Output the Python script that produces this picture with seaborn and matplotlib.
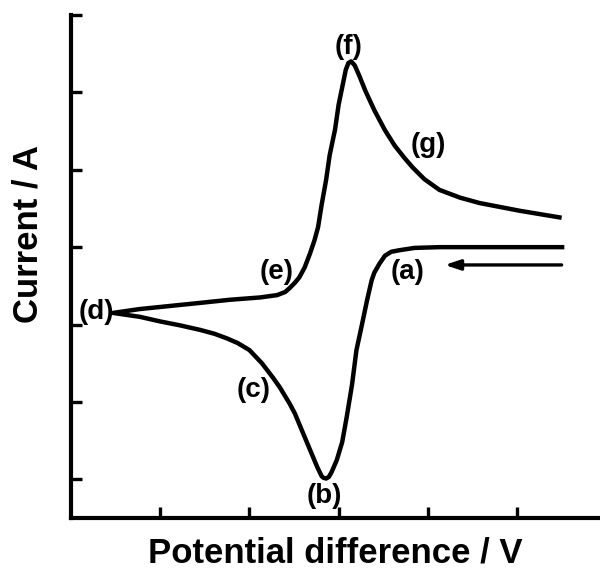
import matplotlib
matplotlib.use("Agg")
import matplotlib.pyplot as plt
import seaborn as sns
import pandas as pd

# Cyclic voltammogram: cathodic sweep from (a) to (d), then anodic sweep back to the right
potential = [5.53, 4.80, 4.13, 3.85, 3.68, 3.59, 3.52, 3.46, 3.40, 3.37, 3.32, 3.26, 3.20,
             3.15, 3.09, 3.04, 2.98, 2.92, 2.89, 2.86, 2.83, 2.81, 2.76, 2.68, 2.60, 2.51,
             2.45, 2.34, 2.26, 2.14, 2.00, 1.87, 1.75, 1.61, 1.45, 1.22, 1.00, 0.77, 0.47,
             0.77, 1.11, 1.45, 1.78, 2.12, 2.31, 2.40, 2.45, 2.51, 2.56, 2.62, 2.68, 2.73,
             2.77, 2.81, 2.86, 2.90, 2.96, 3.00, 3.05, 3.08, 3.11, 3.14, 3.18, 3.23, 3.30,
             3.40, 3.52, 3.63, 3.74, 3.83, 3.96, 4.13, 4.36, 4.58, 5.03, 5.50]
current = [3.00, 3.00, 3.00, 2.99, 2.96, 2.94, 2.89, 2.79, 2.67, 2.57, 2.32, 1.99, 1.67,
           1.22, 0.80, 0.48, 0.25, 0.09, 0.03, 0.01, 0.02, 0.04, 0.16, 0.38, 0.60, 0.85,
           0.98, 1.19, 1.32, 1.50, 1.67, 1.76, 1.82, 1.88, 1.93, 1.99, 2.04, 2.10, 2.15,
           2.20, 2.24, 2.28, 2.32, 2.35, 2.38, 2.42, 2.47, 2.54, 2.61, 2.74, 2.92, 3.09,
           3.26, 3.55, 3.87, 4.19, 4.52, 4.84, 5.12, 5.29, 5.38, 5.40, 5.35, 5.22, 5.02,
           4.77, 4.51, 4.31, 4.15, 4.03, 3.88, 3.74, 3.64, 3.57, 3.47, 3.38]

# Point labels and their positions
point_labels = ["(a)", "(b)", "(c)", "(d)", "(e)", "(f)", "(g)"]
label_x = [3.77, 2.84, 2.05, 0.29, 2.31, 3.11, 4.00]
label_y = [2.68, -0.22, 1.15, 2.16, 2.68, 5.58, 4.32]

# Scan-direction arrow (start and end in data units)
arrow_start = (5.50, 2.77)
arrow_end = (4.19, 2.77)

sns.set_style("ticks")
plt.rcParams["font.family"] = ["Liberation Sans", "DejaVu Sans"]
plt.rcParams["text.color"] = "black"
plt.rcParams["axes.labelcolor"] = "black"

df = pd.DataFrame({"potential": potential, "current": current})

fig = plt.figure(figsize=(6.0, 5.72), dpi=100)
ax = fig.add_axes([0.1183, 0.0944, 0.8817, 0.8794])

sns.lineplot(data=df, x="potential", y="current", sort=False, estimator=None,
             color="black", linewidth=3.2, ax=ax)
ax.lines[-1].set_solid_joinstyle("round")
ax.lines[-1].set_solid_capstyle("butt")

ax.annotate("", xy=arrow_end, xytext=arrow_start,
            arrowprops=dict(arrowstyle="-|>,head_length=0.9,head_width=0.3",
                            color="black", lw=2.4, shrinkA=0, shrinkB=0))

for lab, lx, ly in zip(point_labels, label_x, label_y):
    ax.text(lx, ly, lab, fontsize=20, fontweight="bold", ha="center", va="center")

ax.set_xlim(0, 5.93)
ax.set_ylim(-0.5, 6)
ax.set_xticks([1, 2, 3, 4, 5])
ax.set_yticks([0, 1, 2, 3, 4, 5, 6])
ax.set_xticklabels([])
ax.set_yticklabels([])
ax.tick_params(direction="in", length=8, width=2.4, color="black")

sns.despine(ax=ax)
for side in ("left", "bottom"):
    ax.spines[side].set_linewidth(3)
    ax.spines[side].set_color("black")

ax.set_xlabel("Potential difference / V", fontsize=25, fontweight="bold", labelpad=10)
ax.set_ylabel("Current / A", fontsize=25, fontweight="bold")
ax.yaxis.set_label_coords(-0.05, 0.565)

fig.savefig("out.png", dpi=100)
